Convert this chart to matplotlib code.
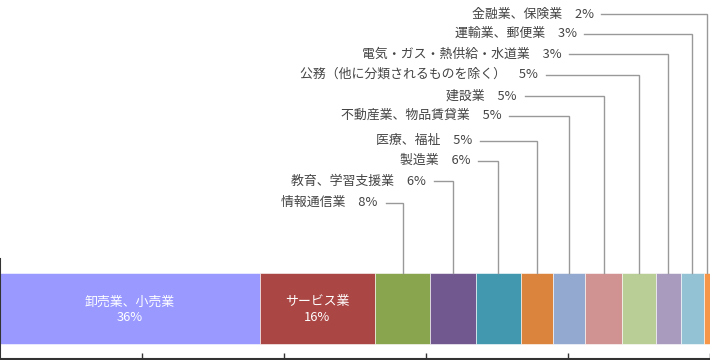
import matplotlib
matplotlib.use("Agg")
import matplotlib.pyplot as plt
import numpy as np

plt.rcParams['font.family'] = ['Noto Sans CJK JP', 'DejaVu Sans']

# industries, in bar order (left to right)
industries = ["卸売業、小売業", "サービス業", "情報通信業", "教育、学習支援業", "製造業",
              "医療、福祉", "不動産業、物品賃貸業", "建設業", "公務（他に分類されるものを除く）",
              "電気・ガス・熱供給・水道業", "運輸業、郵便業", "金融業、保険業"]
shares = [36.6, 16.2, 7.8, 6.4, 6.4, 4.5, 4.5, 5.2, 4.8, 3.5, 3.2, 2.0]
pct_labels = ["36%", "16%", "8%", "6%", "6%", "5%", "5%", "5%", "5%", "3%", "3%", "2%"]
colors = ["#9999FF", "#AA4643", "#89A54E", "#71588F", "#4198AF", "#DB843D",
          "#93A9CF", "#D19392", "#B9CD96", "#A99BBD", "#92C2D4", "#F79646"]

# outside labels: right edge of text (x, in %) and row (y, pixels from top)
label_x = [53.2, 60.0, 66.2, 66.5, 70.6, 72.8, 75.8, 79.1, 81.2, 83.6]
label_y = [202.7, 181.3, 160.7, 140.7, 115.5, 96.0, 74.5, 54.0, 33.5, 14.0]

fig = plt.figure(figsize=(7.1, 3.6), dpi=100)
# axes covers pixel rows 259..359 of the figure, y unit = pixel from top
ax = fig.add_axes([0, 1 / 360, 1, 100 / 360])
ax.set_xlim(0, 100)
ax.set_ylim(359, 259)

bar_top, bar_bot = 272.7, 343.7
bar_y = (bar_top + bar_bot) / 2
bar_h = bar_bot - bar_top

lefts = np.concatenate([[0], np.cumsum(shares)[:-1]])
ax.barh(bar_y, shares, left=lefts, height=bar_h, color=colors,
        edgecolor="white", linewidth=0.4)

# inside labels for the two largest
for i in range(2):
    cx = lefts[i] + shares[i] / 2
    ax.text(cx, bar_y + 1.5, industries[i] + "\n" + pct_labels[i], ha="center",
            va="center", color="white", fontsize=9.3, linespacing=1.25)

# outside labels with leader lines
for k, i in enumerate(range(2, len(industries))):
    right = min(lefts[i] + shares[i], 100)
    cx = (lefts[i] + right) / 2
    tx, ty = label_x[k], label_y[k]
    ax.text(tx, ty, industries[i] + "　" + pct_labels[i], ha="right", va="center",
            color="#444444", fontsize=9.3, clip_on=False)
    ax.plot([tx + 1.1, cx, cx], [ty, ty, bar_top], color="#999999",
            linewidth=1.0, clip_on=False, solid_joinstyle="miter")

for s in ["top", "right"]:
    ax.spines[s].set_visible(False)
for s in ["left", "bottom"]:
    ax.spines[s].set_color("#333333")
    ax.spines[s].set_linewidth(1.5)

ax.set_xticks([20, 40, 60, 80, 100])
ax.set_xticklabels([])
ax.set_yticks([])
ax.tick_params(axis="x", direction="in", length=4, width=1, color="#333333")

fig.savefig("out.png", dpi=100)
